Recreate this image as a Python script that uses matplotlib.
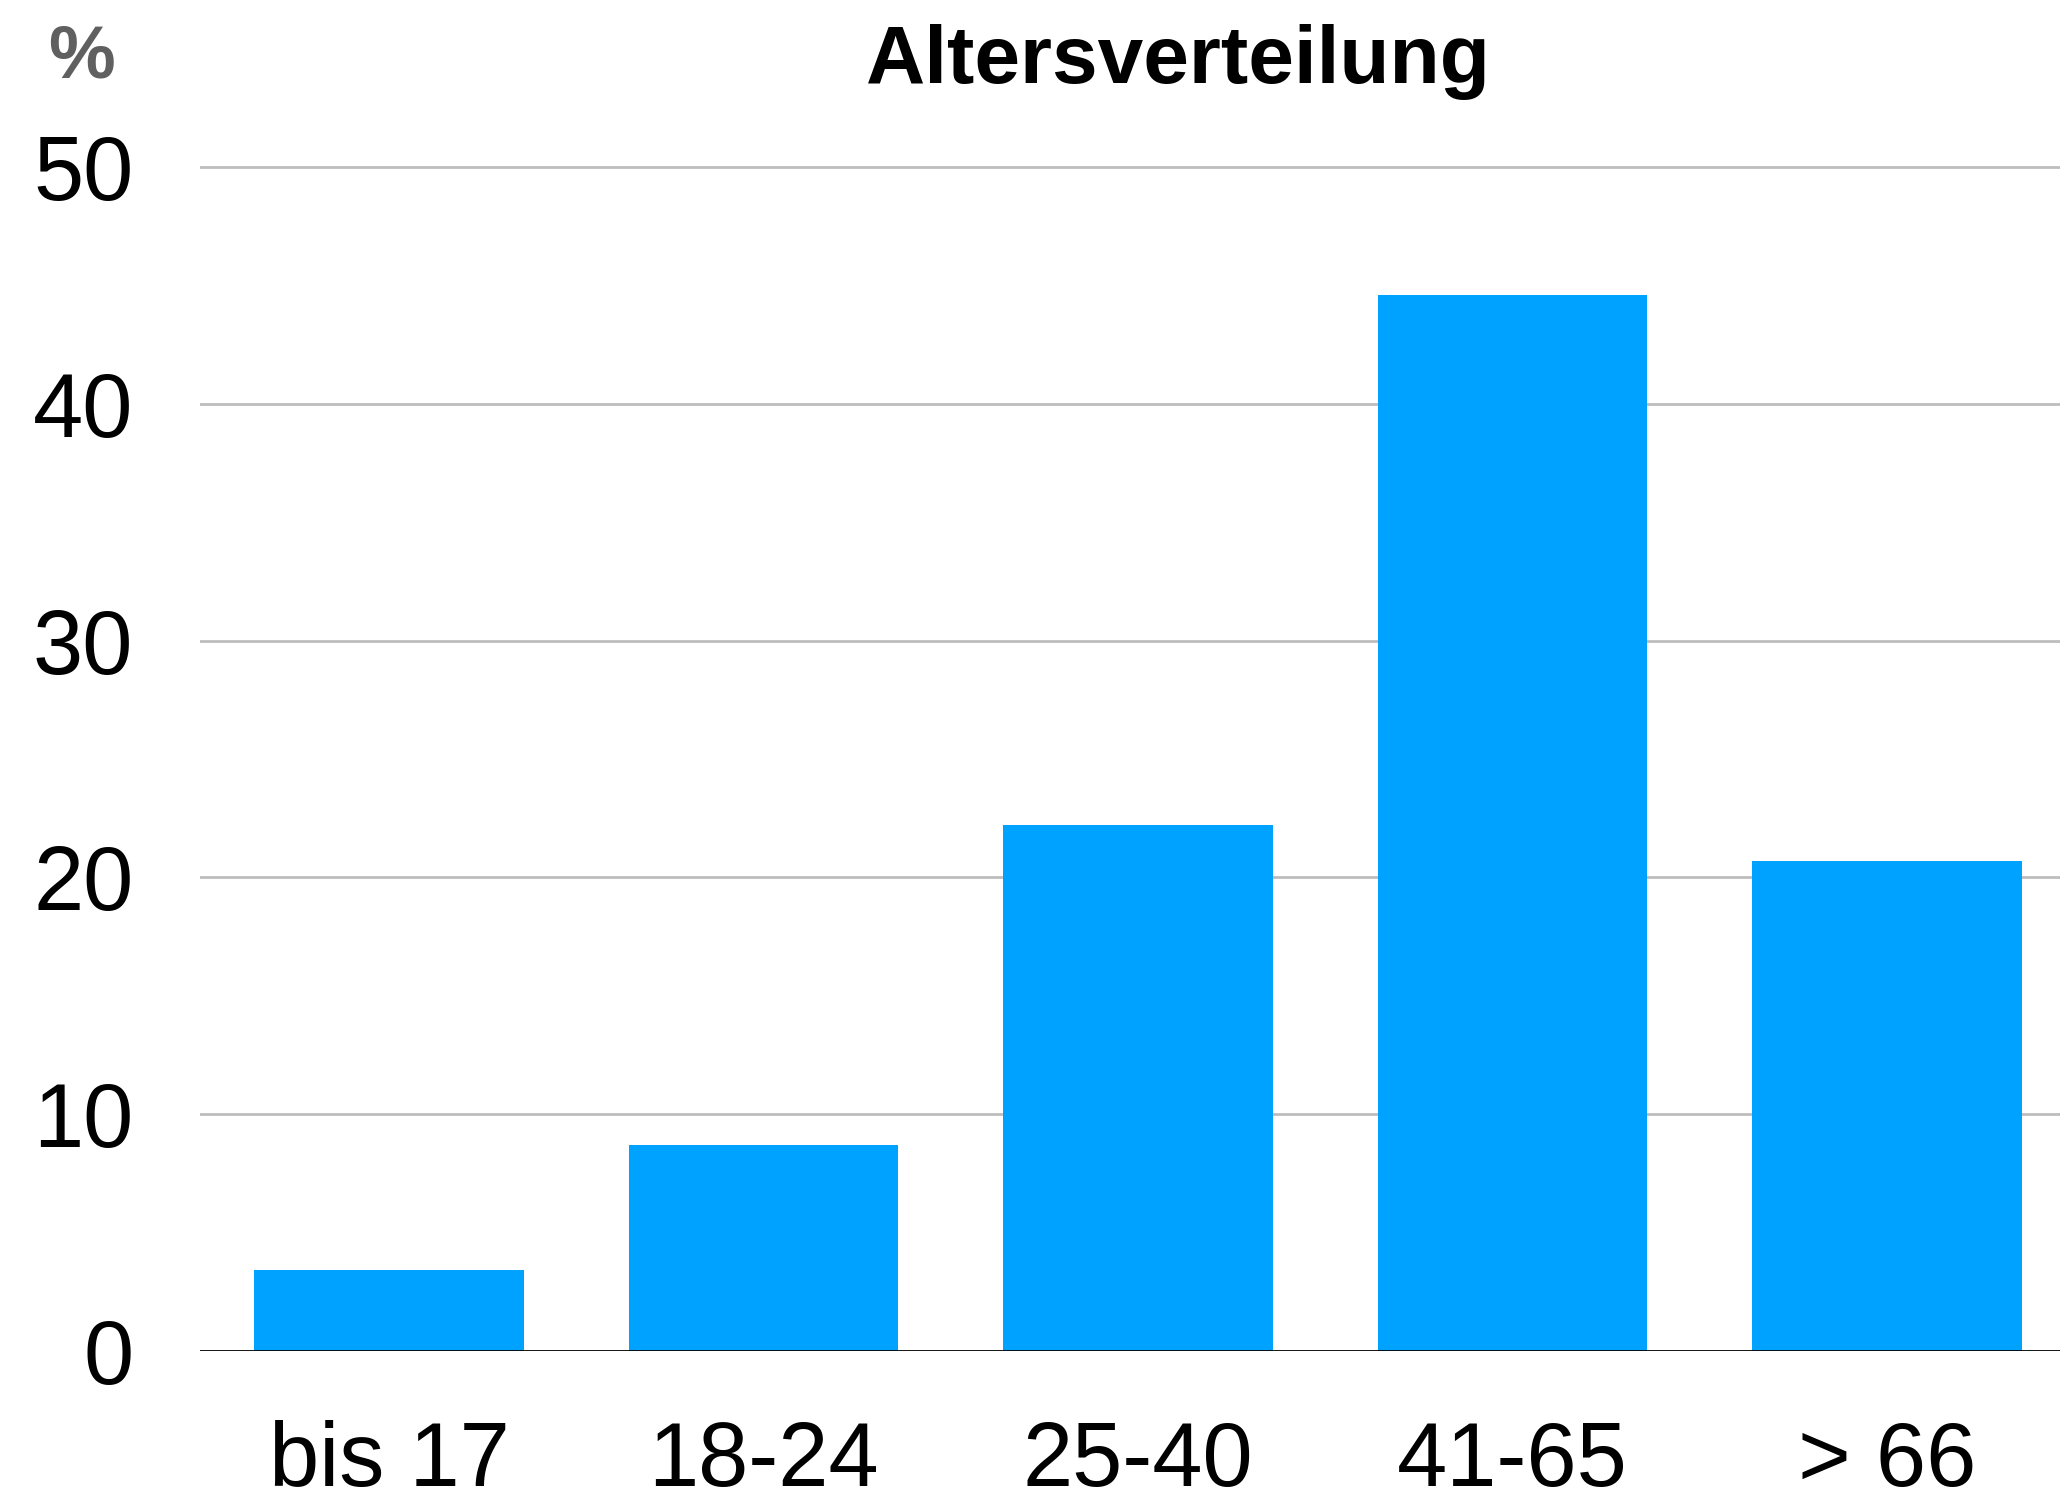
import matplotlib
matplotlib.use("Agg")
import matplotlib.pyplot as plt

categories = ["bis 17", "18-24", "25-40", "41-65", "> 66"]
shares = [3.4, 8.7, 22.2, 44.6, 20.7]
yticks = [0, 10, 20, 30, 40, 50]

plt.rcParams["font.family"] = ["Liberation Sans", "DejaVu Sans"]

W, H = 2060, 1490
fig = plt.figure(figsize=(W / 100, H / 100), dpi=100)

# plot area: zero line at y=1351 px, 50 % line at y=167 px
y0_px, y50_px = 1351, 167
ymax = 51
px_per_unit = (y0_px - y50_px) / 50
top_px = y0_px - ymax * px_per_unit
ax = fig.add_axes([200 / W, (H - y0_px) / H, 1 - 200 / W, (y0_px - top_px) / H])

x = list(range(len(categories)))
ax.bar(x, shares, width=0.72, color="#00A2FF", zorder=2)

ax.set_xlim(-0.505, 4.462)
ax.set_ylim(0, ymax)
ax.set_yticks(yticks)
ax.set_xticks(x)
ax.set_xticklabels(categories)

for v in yticks[1:]:
    ax.axhline(v, color="#BDBDBD", linewidth=2.0, zorder=1)
ax.axhline(0, color="black", linewidth=2.0, zorder=3)

for s in ax.spines.values():
    s.set_visible(False)

ax.tick_params(axis="both", length=0, labelsize=65, colors="black")
ax.tick_params(axis="y", pad=48)
ax.tick_params(axis="x", pad=50)

fig.text(1178.5 / W, 1 - 83 / H, "Altersverteilung", ha="center", va="baseline",
         fontsize=59, fontweight="bold", color="black")
fig.text(81 / W, 1 - 58.5 / H, "%", ha="center", va="center",
         fontsize=54, fontweight="bold", color="#606060")

fig.savefig("out.png", dpi=100)
